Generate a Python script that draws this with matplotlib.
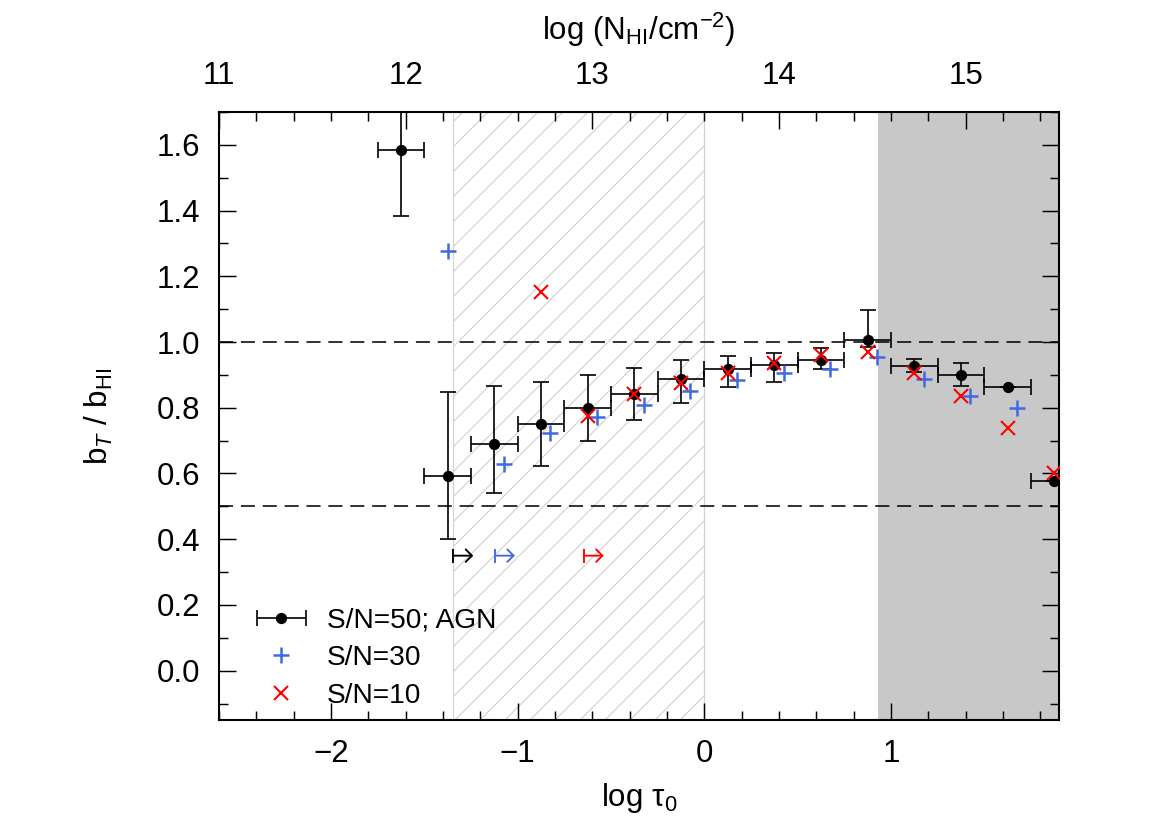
import numpy as np
import matplotlib
matplotlib.use('Agg')
import matplotlib.pyplot as plt
from matplotlib.ticker import MultipleLocator, FormatStrFormatter
from matplotlib.legend_handler import HandlerErrorbar
from matplotlib.container import ErrorbarContainer

plt.rcParams['font.family'] = ['Liberation Sans', 'DejaVu Sans']
plt.rcParams['mathtext.fontset'] = 'custom'
plt.rcParams['mathtext.rm'] = 'Liberation Sans'
plt.rcParams['mathtext.it'] = 'Liberation Sans:italic'
plt.rcParams['hatch.linewidth'] = 0.6

# S/N=50; AGN  (bin centres in log tau0)
x_agn = [-1.625, -1.375, -1.125, -0.875, -0.625, -0.375, -0.125, 0.125,
         0.375, 0.625, 0.875, 1.125, 1.375, 1.625, 1.875]
y_agn = [1.583, 0.592, 0.690, 0.750, 0.800, 0.842, 0.889, 0.917,
         0.930, 0.945, 1.006, 0.926, 0.900, 0.863, 0.576]
err_lo = [0.20, 0.19, 0.15, 0.126, 0.10, 0.08, 0.075, 0.053,
          0.051, 0.027, 0.02, 0.018, 0.035, 0.0, 0.0]
err_hi = [0.20, 0.255, 0.176, 0.128, 0.10, 0.08, 0.056, 0.04,
          0.038, 0.036, 0.091, 0.021, 0.035, 0.0, 0.0]
x_half = 0.125

# S/N=30
x_sn30 = [-1.375, -1.075, -0.825, -0.575, -0.325, -0.075, 0.175, 0.425,
          0.675, 0.925, 1.175, 1.425, 1.675]
y_sn30 = [1.278, 0.629, 0.724, 0.771, 0.809, 0.852, 0.886, 0.907,
          0.918, 0.955, 0.888, 0.836, 0.798]

# S/N=10
x_sn10 = [-0.875, -0.625, -0.375, -0.125, 0.125, 0.375, 0.625, 0.875,
          1.125, 1.375, 1.625, 1.875]
y_sn10 = [1.152, 0.776, 0.842, 0.874, 0.905, 0.935, 0.960, 0.969,
          0.905, 0.836, 0.738, 0.601]

# lower limits (start of arrows)
lim_x = [-1.345, -1.122, -0.646]
lim_col = ['k', '#4169e1', 'r']
lim_y = 0.35
lim_len = 0.107

hatch_band = (-1.345, 0.0)
grey_band = (0.93, 1.9)
offset_N = 13.6

fig = plt.figure(figsize=(7.8, 8.27 * 7.8 / 11.7), dpi=150)
ax = fig.add_axes([0.1872, 0.1294, 0.7179, 0.7352])

ax.axvspan(*grey_band, facecolor='#c8c8c8', lw=0, zorder=0)
ax.axvspan(*hatch_band, facecolor='none', edgecolor='#d4d4d4', hatch='//',
           lw=0.6, zorder=0)

for yl in (1.0, 0.5):
    ax.axhline(yl, color='k', ls=(0, (9, 5)), lw=0.75, zorder=1)

ax.errorbar(x_agn, y_agn, xerr=x_half, yerr=[err_lo, err_hi], fmt='o',
            color='k', ms=4.4, capsize=3.8, elinewidth=0.8, capthick=0.8,
            zorder=3)
# legend proxy: horizontal bar only
h_agn = ax.errorbar([np.nan], [np.nan], xerr=[0.1], fmt='o', color='k',
                    ms=4.4, capsize=3.8, elinewidth=0.8, capthick=0.8)
h30, = ax.plot(x_sn30, y_sn30, '+', color='#4169e1', ms=8, mew=1.2, zorder=4)
h10, = ax.plot(x_sn10, y_sn10, 'x', color='r', ms=6.5, mew=1.0, zorder=5)

for x0, c in zip(lim_x, lim_col):
    ax.plot([x0], [lim_y], '|', color=c, ms=6.5, mew=0.9, zorder=5)
    ax.annotate('', xy=(x0 + lim_len, lim_y), xytext=(x0, lim_y),
                arrowprops=dict(arrowstyle='->,head_length=0.5,head_width=0.5',
                                color=c, lw=0.9, shrinkA=0, shrinkB=0,
                                mutation_scale=6), zorder=5)

ax.set_xlim(-2.6, 1.9)
ax.set_ylim(-0.15, 1.7)
ax.xaxis.set_major_locator(MultipleLocator(1))
ax.xaxis.set_minor_locator(MultipleLocator(0.2))
ax.yaxis.set_major_locator(MultipleLocator(0.2))
ax.yaxis.set_minor_locator(MultipleLocator(0.1))
ax.yaxis.set_major_formatter(FormatStrFormatter('%.1f'))
ax.tick_params(which='both', direction='in', right=True, top=False,
               width=0.7, labelsize=15)
ax.tick_params(which='major', length=8.2, pad=9)
ax.tick_params(which='minor', length=4.3)
for s in ax.spines.values():
    s.set_linewidth(1.0)

ax.set_xlabel(r'log τ$_0$', fontsize=15, labelpad=6)
ax.set_ylabel(r'b$_{T}$ / b$_{\mathrm{HI}}$', fontsize=15, labelpad=20)

top = ax.secondary_xaxis('top', functions=(lambda x: x + offset_N,
                                           lambda x: x - offset_N))
top.xaxis.set_major_locator(MultipleLocator(1))
top.xaxis.set_minor_locator(MultipleLocator(0.2))
top.tick_params(which='both', direction='in', width=0.7, labelsize=15)
top.tick_params(which='major', length=8.2, pad=10)
top.tick_params(which='minor', length=4.3)
top.set_xlabel(r'log (N$_{\mathrm{HI}}$/cm$^{-2}$)', fontsize=15, labelpad=10)

ax.legend([h_agn, h30, h10], ['S/N=50; AGN', 'S/N=30', 'S/N=10'],
          handler_map={ErrorbarContainer: HandlerErrorbar(xerr_size=0.87)},
          loc='lower left', bbox_to_anchor=(0.045, 0.018), frameon=False,
          fontsize=13.5, handlelength=1.75, handletextpad=0.75,
          labelspacing=0.42, borderpad=0, borderaxespad=0)

fig.savefig('out.png', dpi=150)
